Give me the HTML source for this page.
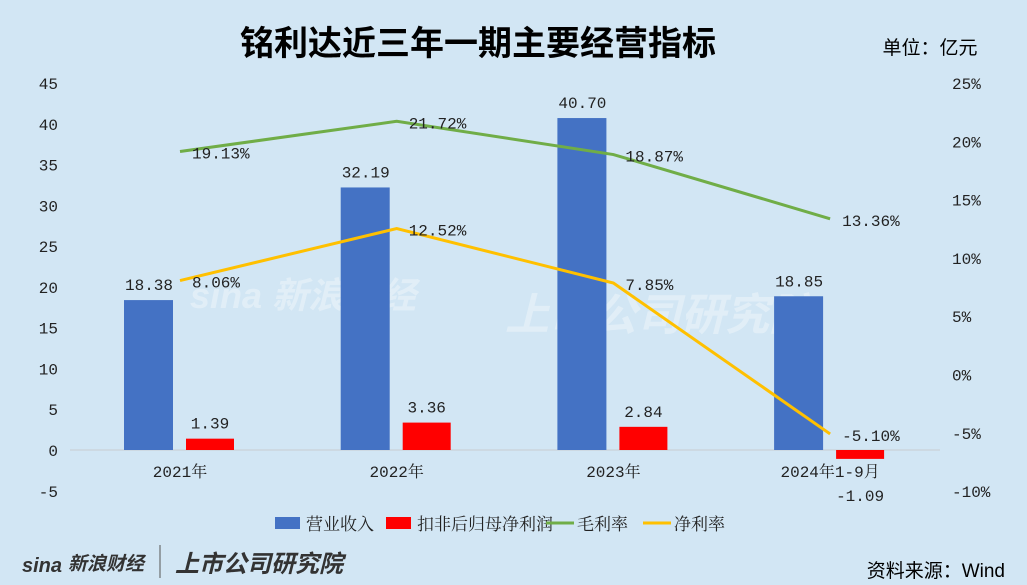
<!DOCTYPE html>
<html><head><meta charset="utf-8"><style>
body{margin:0;background:#d2e6f4;}
svg{display:block;font-family:"Liberation Mono","Noto Serif CJK SC",monospace;}
</style></head><body>
<svg id="c" width="1027" height="585" viewBox="0 0 1027 585">
<rect width="1027" height="585" fill="#d2e6f4"/>
<text x="478" y="55" text-anchor="middle" font-size="34" font-weight="bold" font-family="Liberation Sans,Noto Sans CJK SC,sans-serif">铭利达近三年一期主要经营指标</text>
<text x="930" y="54" text-anchor="middle" font-size="19" font-family="Liberation Sans,Noto Sans CJK SC,sans-serif">单位：亿元</text>
<text x="1005" y="577" text-anchor="end" font-size="19" font-family="Liberation Sans,Noto Sans CJK SC,sans-serif">资料来源：Wind</text>
<g font-family="Liberation Sans,Noto Sans CJK SC,sans-serif" font-weight="bold" font-style="italic">
<text x="22" y="572" font-size="20" fill="#333">sina</text>
<text x="68" y="570" font-size="19" fill="#333">新浪财经</text>
<line x1="160" y1="545" x2="160" y2="578" stroke="#555" stroke-width="1"/>
<text x="175" y="572" font-size="24" fill="#333">上市公司研究院</text>
</g>
<g font-family="Liberation Sans,Noto Sans CJK SC,sans-serif" font-weight="bold" font-style="italic" fill="#ffffff" opacity="0.35">
<text x="190" y="308" font-size="36">sina 新浪财经</text>
<text x="505" y="330" font-size="44">上市公司研究院</text>
</g>
<g id="g"></g>
</svg>
<script>
const categories=["2021年","2022年","2023年","2024年1-9月"];
const revenue=[18.38,32.19,40.70,18.85];
const netProfit=[1.39,3.36,2.84,-1.09];
const grossMargin=[19.13,21.72,18.87,13.36];
const netMargin=[8.06,12.52,7.85,-5.10];
const leftTicks=[45,40,35,30,25,20,15,10,5,0,-5];
const rightTicks=[25,20,15,10,5,0,-5,-10];
const NS="http://www.w3.org/2000/svg";
const g=document.getElementById('g');
function yL(v){return 450-v*8.156;}
function yR(v){return 374.5-v*11.657;}
function xC(i){return 180+i*216.7;}
function mk(t,a,txt){const e=document.createElementNS(NS,t);for(const k in a)e.setAttribute(k,a[k]);if(txt!==undefined)e.textContent=txt;g.appendChild(e);return e;}
leftTicks.forEach(v=>{const e=mk('text',{x:58,y:yL(v)+6,'text-anchor':'end','font-size':16,fill:'#222'},String(v));

});
rightTicks.forEach(v=>{const e=mk('text',{x:952,y:yR(v)+6,'text-anchor':'start','font-size':16,fill:'#222'},v+'%');

});
let ax=mk('line',{x1:70,x2:940,y1:yL(0),y2:yL(0),stroke:'#c8ccd0','stroke-width':1});


categories.forEach((c,i)=>{
 const x=xC(i);
 const r=revenue[i];
 const b=mk('rect',{x:x-56,y:Math.min(yL(r),yL(0)),width:49,height:Math.abs(yL(r)-yL(0)),fill:'#4472c4'});
 
 
 const n=netProfit[i];
 const b2=mk('rect',{x:x+6,y:Math.min(yL(n),yL(0)),width:48,height:Math.abs(yL(n)-yL(0)),fill:'#ff0000'});
 
 
 const t1=mk('text',{x:x-31,y:yL(r)-10,'text-anchor':'middle','font-size':16,fill:'#222'},r.toFixed(2));
 
 
 const t2=mk('text',{x:x+30,y:n>=0?yL(n)-10:yL(n)+42,'text-anchor':'middle','font-size':16,fill:'#222'},n.toFixed(2));
 
 
 const t3=mk('text',{x:x,y:477,'text-anchor':'middle','font-size':16,fill:'#222'},c);
 
 
});
function line(arr,col,name){
 const p=mk('polyline',{points:arr.map((v,i)=>xC(i)+','+yR(v)).join(' '),fill:'none',stroke:col,'stroke-width':3});
 
 
 arr.forEach((v,i)=>{const t=mk('text',{x:xC(i)+12,y:yR(v)+7,'font-size':16,fill:'#222'},v.toFixed(2)+'%');
 
 });
}
line(grossMargin,'#70ad47','gross-margin-line');
line(netMargin,'#ffc000','net-margin-line');
const leg=[["rect","#4472c4","营业收入",275],["rect","#ff0000","扣非后归母净利润",386],["line","#70ad47","毛利率",546],["line","#ffc000","净利率",643]];
leg.forEach(l=>{
 let s;
 if(l[0]=="rect")s=mk('rect',{x:l[3],y:517,width:25,height:12,fill:l[1]});
 else s=mk('line',{x1:l[3],x2:l[3]+28,y1:523,y2:523,stroke:l[1],'stroke-width':3});
 
 
 const t=mk('text',{x:l[3]+31,y:530,'font-size':17,fill:'#222'},l[2]);
 
 
});
</script>
</body></html>
